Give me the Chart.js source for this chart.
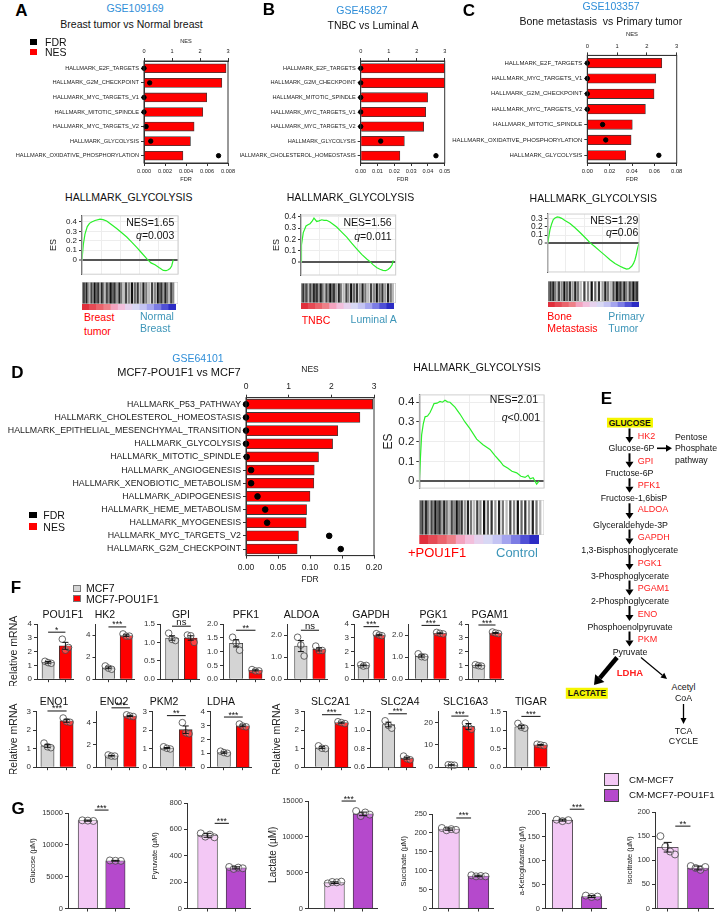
<!DOCTYPE html>
<html lang="en">
<head>
<meta charset="utf-8">
<title>POU1F1 glycolysis figure</title>
<script src="https://cdn.jsdelivr.net/npm/chart.js@4.4.1/dist/chart.umd.min.js"></script>
<style>
  body { margin: 0; background: #fff; }
  #stage { position: relative; width: 719px; height: 916px; overflow: hidden; background: #fff; }
  #stage canvas { position: absolute; }
  .t { position: absolute; white-space: pre; line-height: 1; font-family: Arial, "Liberation Sans", sans-serif; color: #111; }
  .box { position: absolute; box-sizing: border-box; }
</style>
</head>
<body>
<div id="stage"></div>
<script>
// ---------- A-D hallmark tables (NES bars, FDR dots) ----------
const aNames = ['HALLMARK_E2F_TARGETS', 'HALLMARK_G2M_CHECKPOINT', 'HALLMARK_MYC_TARGETS_V1', 'HALLMARK_MITOTIC_SPINDLE', 'HALLMARK_MYC_TARGETS_V2', 'HALLMARK_GLYCOLYSIS', 'HALLMARK_OXIDATIVE_PHOSPHORYLATION'];
const aNES = [2.93, 2.78, 2.24, 2.1, 1.79, 1.66, 1.39];
const aFDR = [0, 0.00054, 0, 0, 0.0002, 0.00064, 0.0071];

const bNames = ['HALLMARK_E2F_TARGETS', 'HALLMARK_G2M_CHECKPOINT', 'HALLMARK_MITOTIC_SPINDLE', 'HALLMARK_MYC_TARGETS_V1', 'HALLMARK_MYC_TARGETS_V2', 'HALLMARK_GLYCOLYSIS', 'HALLMARK_CHOLESTEROL_HOMEOSTASIS'];
const bNES = [3.0, 3.0, 2.39, 2.32, 2.25, 1.56, 1.4];
const bFDR = [0, 0, 0, 0, 0, 0.0119, 0.0448];

const cNames = ['HALLMARK_E2F_TARGETS', 'HALLMARK_MYC_TARGETS_V1', 'HALLMARK_G2M_CHECKPOINT', 'HALLMARK_MYC_TARGETS_V2', 'HALLMARK_MITOTIC_SPINDLE', 'HALLMARK_OXIDATIVE_PHOSPHORYLATION', 'HALLMARK_GLYCOLYSIS'];
const cNES = [2.5, 2.3, 2.24, 1.95, 1.51, 1.47, 1.29];
const cFDR = [0, 0, 0, 0, 0.0137, 0.0165, 0.064];

const dNames = ['HALLMARK_P53_PATHWAY', 'HALLMARK_CHOLESTEROL_HOMEOSTASIS', 'HALLMARK_EPITHELIAL_MESENCHYMAL_TRANSITION', 'HALLMARK_GLYCOLYSIS', 'HALLMARK_MITOTIC_SPINDLE', 'HALLMARK_ANGIOGENESIS', 'HALLMARK_XENOBIOTIC_METABOLISM', 'HALLMARK_ADIPOGENESIS', 'HALLMARK_HEME_METABOLISM', 'HALLMARK_MYOGENESIS', 'HALLMARK_MYC_TARGETS_V2', 'HALLMARK_G2M_CHECKPOINT'];
const dNES = [2.97, 2.67, 2.15, 2.03, 1.7, 1.6, 1.59, 1.5, 1.42, 1.41, 1.23, 1.2];
const dFDR = [0, 0, 0, 0, 0.001, 0.008, 0.008, 0.018, 0.03, 0.033, 0.13, 0.148];

// ---------- running enrichment scores (rank % , ES) ----------
const esAx = [0, 1.4, 3.1, 5.5, 7.8, 10.1, 13.5, 18.8, 21.9, 25.7, 30.2, 36.1, 41.4, 46.6, 51.8, 57, 62.2, 67.4, 71.9, 76, 80.2, 84.7, 87.5, 89.9, 91.7, 93.4, 95.1];
const esAy = [0, 0.16, 0.27, 0.35, 0.385, 0.40, 0.415, 0.43, 0.425, 0.41, 0.375, 0.33, 0.285, 0.24, 0.185, 0.13, 0.07, 0.01, -0.035, -0.055, -0.085, -0.115, -0.118, -0.108, -0.095, -0.068, 0];
const esBx = [0, 0.5, 2.4, 5.3, 7.4, 9.5, 11.6, 13.7, 16.6, 19, 21.9, 24.3, 27.1, 30.6, 37.7, 43, 48.3, 53.5, 58.8, 64.1, 69.4, 72.9, 76.3, 80.2, 83.4, 86.6, 89.4, 91.9, 94, 96.1, 97.4];
const esBy = [0, 0.15, 0.26, 0.32, 0.33, 0.34, 0.36, 0.39, 0.36, 0.365, 0.375, 0.37, 0.37, 0.355, 0.31, 0.265, 0.22, 0.165, 0.114, 0.065, 0.023, 0, -0.029, -0.055, -0.068, -0.078, -0.081, -0.07, -0.055, -0.03, 0.01];
const esCx = [0, 2.5, 4.4, 6.1, 8, 10.5, 12.9, 15.3, 18.9, 24.4, 29.9, 35.4, 40.9, 46.3, 51.8, 57.3, 62.8, 68.2, 73.7, 79.2, 83, 86.5, 89, 92, 94, 95.6, 97.1, 98.1, 100];
const esCy = [0, 0.166, 0.24, 0.29, 0.31, 0.324, 0.318, 0.306, 0.28, 0.243, 0.19, 0.131, 0.07, 0.007, -0.045, -0.098, -0.15, -0.204, -0.25, -0.285, -0.305, -0.32, -0.315, -0.285, -0.25, -0.204, -0.14, -0.08, 0];
const esDx = [0, 1, 1.9, 3.2, 4.6, 6.6, 8.6, 10.2, 11.8, 14.2, 16.6, 18.6, 20.6, 22.6, 24.6, 28.6, 32.6, 36.6, 40.6, 46, 51.1, 56.7, 60.7, 64.7, 67.4, 71.1, 74.3, 78.1, 81.5, 84.8, 87.2, 88.9, 91.3, 94.1, 96];
const esDy = [0, 0.13, 0.236, 0.29, 0.326, 0.33, 0.348, 0.37, 0.393, 0.395, 0.404, 0.40, 0.41, 0.402, 0.40, 0.375, 0.34, 0.30, 0.266, 0.213, 0.185, 0.161, 0.13, 0.101, 0.079, 0.065, 0.05, 0.042, 0.025, 0.019, 0.03, 0.012, 0.018, -0.015, 0];

// gene-set hit positions along the ranked list (%)
const hitsA = [0.5, 1.5, 2.5, 4, 5, 6.5, 8, 10, 12, 13.5, 15, 17, 19, 21, 22.5, 24, 26, 28, 30, 32, 34, 36.5, 39, 41, 44, 46, 49, 52, 55, 58, 61, 64, 67, 70, 73, 76, 79, 81, 83, 85, 87, 89, 91, 93, 95];
const hitsB = [0.5, 1.5, 3, 4.5, 6, 7, 8.5, 10, 12, 14, 15.5, 17, 19, 21, 23, 25, 27, 29, 31, 33, 35, 37, 40, 42, 45, 48, 50, 53, 56, 59, 62, 65, 68, 71, 74, 77, 80, 83, 86, 89, 92, 95, 97];
const hitsC = [0.5, 2, 3.5, 5, 6, 8, 10, 12, 15, 18, 21, 24, 27, 30, 33, 36, 40, 44, 48, 52, 56, 60, 63, 66, 69, 72, 74, 76, 78, 80, 82, 84, 86, 88, 90, 92, 94, 96, 98];
const hitsD = [0.5, 1.5, 3, 4, 5.5, 7, 8.5, 10, 11.5, 13, 15, 16.5, 18, 20, 22, 24, 26, 28, 30, 32, 34, 36.5, 39, 41.5, 44, 46.5, 49, 52, 55, 58, 61, 64, 67, 70, 73, 76, 79, 82, 85, 88, 91, 94, 97];

// ---------- F: qPCR, relative mRNA (MCF7, MCF7-POU1F1) ----------
const fGenes1 = ['POU1F1', 'HK2', 'GPI', 'PFK1', 'ALDOA', 'GAPDH', 'PGK1', 'PGAM1'];
const fMean1 = [[1.22, 2.42], [1.03, 3.95], [1.12, 1.12], [1.3, 0.32], [1.5, 1.35], [1.0, 3.2], [1.05, 2.08], [1.0, 3.35]];
const fSem1 = [[0.06, 0.25], [0.08, 0.07], [0.06, 0.06], [0.13, 0.02], [0.25, 0.07], [0.03, 0.05], [0.05, 0.02], [0.03, 0.03]];
const fPts1 = [
  [[1.3, 1.2, 1.15], [2.9, 2.1, 2.3]],
  [[1.2, 1.0, 0.9], [4.1, 3.9, 3.9]],
  [[1.25, 1.08, 1.05], [1.2, 1.18, 1.0]],
  [[1.52, 1.32, 1.05], [0.35, 0.3, 0.3]],
  [[1.9, 1.55, 1.05], [1.5, 1.3, 1.3]],
  [[1.05, 0.95, 1.0], [3.3, 3.2, 3.15]],
  [[1.15, 1.02, 1.0], [2.12, 2.08, 2.05]],
  [[1.05, 0.98, 0.95], [3.42, 3.35, 3.3]]
];
const fSig1 = ['*', '***', 'ns', '**', 'ns', '***', '***', '***'];
const fMin1 = [0, 0, 0, 0, 0, 0, 0, 0];
const fMax1 = [4, 5, 1.5, 2, 2.5, 4, 2.5, 4];
const fStep1 = [1, 1, 0.5, 0.5, 0.5, 1, 0.5, 1];

const fGenes2 = ['ENO1', 'ENO2', 'PKM2', 'LDHA', 'SLC2A1', 'SLC2A4', 'SLC16A3', 'TIGAR'];
const fMean2 = [[1.15, 2.5], [1.03, 4.6], [1.03, 2.02], [1.05, 2.97], [1.05, 2.4], [1.06, 0.697], [1.0, 18.3], [1.09, 0.6]];
const fSem2 = [[0.08, 0.08], [0.03, 0.05], [0.03, 0.2], [0.05, 0.06], [0.05, 0.03], [0.025, 0.01], [0.06, 1.3], [0.04, 0.01]];
const fPts2 = [
  [[1.3, 1.1, 1.05], [2.65, 2.45, 2.42]],
  [[1.1, 1.0, 1.0], [4.7, 4.6, 4.55]],
  [[1.1, 1.02, 0.98], [2.4, 1.85, 1.8]],
  [[1.15, 1.05, 1.0], [3.1, 2.95, 2.9]],
  [[1.15, 1.02, 1.0], [2.45, 2.4, 2.35]],
  [[1.1, 1.05, 1.02], [0.72, 0.69, 0.68]],
  [[1.1, 1.0, 0.9], [19.8, 18, 17]],
  [[1.18, 1.08, 1.05], [0.62, 0.6, 0.58]]
];
const fSig2 = ['***', '***', '**', '***', '***', '***', '***', '***'];
const fMin2 = [0, 0, 0, 0, 0, 0.6, 0, 0];
const fMax2 = [3, 5, 3, 4, 3, 1.2, 25, 1.5];
const fStep2 = [1, 1, 1, 1, 1, 0.2, 5, 0.5];

// ---------- G: metabolites (CM-MCF7, CM-MCF7-POU1F1) ----------
const gNames = ['Glucose (µM)', 'Pyruvate (µM)', 'Lactate (µM)', 'Succinate (µM)', 'a-Ketoglutarate (µM)', 'Isocitrate (µM)'];
const gMean = [[13800, 7500], [555, 308], [3600, 13200], [210, 86], [185, 25], [127, 84]];
const gSem = [[90, 60], [15, 8], [120, 250], [3, 2], [2, 2], [10, 4]];
const gPts = [
  [[13850, 13800, 13750], [7550, 7500, 7480]],
  [[570, 545, 560, 540], [315, 300, 310, 305]],
  [[3500, 3700, 3650, 3750], [13600, 12900, 13400, 13100]],
  [[213, 207, 210, 208], [88, 85, 86, 85]],
  [[186, 183, 185], [27, 24, 25]],
  [[150, 128, 118, 112], [88, 84, 80, 86]]
];
const gSig = ['***', '***', '***', '***', '***', '**'];
const gMax = [15000, 800, 15000, 250, 200, 200];
const gStep = [5000, 200, 5000, 50, 50, 50];

// ---------- layout (page px) ----------
const fLay1 = [[37, 48.8, 67.2], [95.5, 109, 127.5], [160, 172.5, 192], [223, 236.5, 256.5], [287, 301.5, 320.5], [354, 364, 380.5], [408, 422, 441], [468, 479, 497]];
const fLay2 = [[36, 48, 68], [96, 112, 131], [152, 167.5, 187], [210, 224.5, 244], [304, 322.5, 342.5], [370, 389, 408], [438, 452, 470], [506, 522, 542]];
const fTitleX1 = [63, 105, 181, 246, 301.5, 371, 433.5, 490];
const fTitleX2 = [54, 114, 164, 221, 330.5, 400, 465.6, 531];
const fRel1 = [14, null, null, null, null, null, null, null];
const fRel2 = [14, null, null, null, 277, null, null, null];
const gLay = [[68, 88.5, 117], [187, 208, 237], [308, 335, 364], [432, 449.5, 480], [545, 563, 593], [655, 668, 699]];
const gTop = [813, 803, 801, 814, 813, 812];
const gTitleX = [32, 154, 273, 403, 521, 629];

const RED = '#ff0000', TEAL = '#3d95b8', BLUE = '#2f8ed8';
const shades = ['#111', '#666', '#333', '#999', '#222', '#777', '#bbb', '#444', '#888'];
const rampA = ['#e02f3c', '#e54a55', '#ea646c', '#ee8088', '#f3a3bf', '#f2bfdc', '#e6d2ee', '#d8d8f4', '#c4c4f3', '#a4a4ee', '#7c7ce4', '#5050d6', '#2c2cc4'];
const jit = { 3: [-0.2, 0, 0.2], 4: [-0.24, -0.08, 0.08, 0.24] };

Chart.defaults.font.family = 'Arial, "Liberation Sans", sans-serif';
Chart.defaults.color = '#222';
Chart.defaults.animation = false;
Chart.defaults.responsive = false;
Chart.defaults.events = [];
Chart.defaults.plugins.legend.display = false;
Chart.defaults.plugins.tooltip.enabled = false;

// frame around the plot area
const framePlugin = {
  id: 'frame',
  afterDraw(chart, args, o) {
    if (!o.color) return;
    const { left, top, right, bottom } = chart.chartArea;
    const c = chart.ctx;
    c.save();
    c.strokeStyle = o.color;
    c.lineWidth = 1;
    c.strokeRect(left, top, right - left, bottom - top);
    c.restore();
  }
};

// mean +/- sem whiskers
const errPlugin = {
  id: 'err',
  afterDatasetsDraw(chart, args, o) {
    if (!o.sem) return;
    const ys = chart.scales.y, c = chart.ctx;
    const bars = chart.getDatasetMeta(1).data;
    c.save();
    c.strokeStyle = '#111';
    c.lineWidth = 1;
    bars.forEach((bar, i) => {
      const y1 = ys.getPixelForValue(o.mean[i] - o.sem[i]);
      const y2 = ys.getPixelForValue(o.mean[i] + o.sem[i]);
      c.beginPath();
      c.moveTo(bar.x, y1); c.lineTo(bar.x, y2);
      c.moveTo(bar.x - o.cap, y1); c.lineTo(bar.x + o.cap, y1);
      c.moveTo(bar.x - o.cap, y2); c.lineTo(bar.x + o.cap, y2);
      c.stroke();
    });
    c.restore();
  }
};

// significance bracket
const sigPlugin = {
  id: 'sig',
  afterDraw(chart, args, o) {
    if (!o.text) return;
    const xs = chart.scales.x, ys = chart.scales.y, c = chart.ctx;
    const x1 = xs.getPixelForValue(1 + o.inset), x2 = xs.getPixelForValue(2 - o.inset);
    const y = ys.getPixelForValue(o.top) - o.gap;
    c.save();
    c.strokeStyle = '#111';
    c.lineWidth = 1;
    c.beginPath(); c.moveTo(x1, y); c.lineTo(x2, y); c.stroke();
    c.fillStyle = '#111';
    c.font = o.size + 'px Arial, "Liberation Sans", sans-serif';
    c.textAlign = 'center';
    c.textBaseline = 'alphabetic';
    c.fillText(o.text, (x1 + x2) / 2, o.text === 'ns' ? y - 1.5 : y + 0.5);
    c.restore();
  }
};
Chart.register(framePlugin, errPlugin, sigPlugin);

const stage = document.getElementById('stage');

// put a chart so that its plot area lands on `area` = [l, t, r, b]; pad = room outside it
function place(area, pad, cfg) {
  const [l, t, r, b] = area, [pl, pt, pr, pb] = pad;
  const cv = document.createElement('canvas');
  const x0 = Math.round(l - pl), y0 = Math.round(t - pt);
  cv.width = Math.round(r + pr) - x0;
  cv.height = Math.round(b + pb) - y0;
  cv.style.left = x0 + 'px';
  cv.style.top = y0 + 'px';
  stage.appendChild(cv);
  const size = { left: l - x0, top: t - y0, right: cv.width - (r - x0), bottom: cv.height - (b - y0) };
  const used = {};
  const scales = cfg.options.scales;
  Object.keys(scales).forEach(id => {
    const s = scales[id];
    if (s.display === false) return;
    const pos = s.position || (id[0] === 'y' ? 'left' : 'bottom');
    used[pos] = true;
    s.afterFit = sc => {
      if (pos === 'left' || pos === 'right') sc.width = size[pos];
      else sc.height = size[pos];
    };
  });
  cfg.options.layout = { padding: {
    left: used.left ? 0 : size.left, right: used.right ? 0 : size.right,
    top: used.top ? 0 : size.top, bottom: used.bottom ? 0 : size.bottom } };
  cfg.options.devicePixelRatio = 1;
  return new Chart(cv, cfg);
}

function txt(x, y, s, css, align, html) {
  const d = document.createElement('div');
  d.className = 't';
  if (html) d.innerHTML = s; else d.textContent = s;
  d.style.cssText += css;
  d.style.left = x + 'px';
  d.style.top = y + 'px';
  d.style.transform = align === 'l' ? 'translate(0,-50%)' : align === 'r' ? 'translate(-100%,-50%)' : 'translate(-50%,-50%)';
  stage.appendChild(d);
}

function box(x, y, w, h, css) {
  const d = document.createElement('div');
  d.className = 'box';
  d.style.cssText = `left:${x}px;top:${y}px;width:${w}px;height:${h}px;` + css;
  stage.appendChild(d);
}

const outGrid = () => ({ drawOnChartArea: false, tickLength: 3, color: '#333', tickColor: '#333', offset: false });

function nesChart(area, pad, names, nes, fdr, f) {
  return place(area, pad, {
    type: 'bar',
    data: {
      labels: names,
      datasets: [
        { type: 'scatter', indexAxis: 'x', data: fdr.map((v, i) => ({ x: v, y: names[i] })), xAxisID: 'x2', yAxisID: 'y',
          pointRadius: f.dot, backgroundColor: '#000', borderColor: '#000', clip: false },
        { data: nes, xAxisID: 'x', yAxisID: 'y', backgroundColor: RED, borderColor: '#3a3a3a', borderWidth: 0.8, barThickness: f.bar }
      ]
    },
    options: {
      indexAxis: 'y',
      scales: {
        x: { position: 'top', min: 0, max: 3, ticks: { stepSize: 1, font: { size: f.tick }, padding: 3, maxRotation: 0, autoSkip: false },
             grid: outGrid(), border: { color: '#333' },
             title: { display: f.nes, text: 'NES', font: { size: f.tick }, padding: { top: 2, bottom: 0 } } },
        x2: { position: 'bottom', min: 0, max: f.fdrMax,
              ticks: { stepSize: f.fdrStep, font: { size: f.tick }, padding: f.bpad, maxRotation: 0, minRotation: 0, autoSkip: false, callback: v => v.toFixed(f.digits) },
              grid: outGrid(), border: { color: '#333' },
              title: { display: true, text: 'FDR', font: { size: f.tick }, padding: { top: 0, bottom: 2 } } },
        y: { position: 'left', type: 'category', offset: true, ticks: { autoSkip: false, font: { size: f.label }, color: '#222', padding: 2 },
             grid: outGrid(), border: { color: '#333' } }
      },
      plugins: { frame: { color: '#333' } }
    }
  });
}

function esChart(area, pad, xs, ys, f) {
  return place(area, pad, {
    type: 'line',
    data: { datasets: [{ data: xs.map((x, i) => ({ x, y: ys[i] })), borderColor: '#2bf02b', borderWidth: 1.2, pointRadius: 0, tension: 0 }] },
    options: {
      scales: {
        x: { type: 'linear', min: 0, max: 100, ticks: { display: false, stepSize: 20 }, grid: { color: '#ededed', tickLength: 0 }, border: { display: false } },
        y: { min: f.min, max: f.max,
             ticks: { stepSize: 0.1, includeBounds: false, font: { size: f.tick }, color: '#222', padding: 2,
                      callback: v => v < -1e-9 ? null : (Math.abs(v) < 1e-9 ? '0' : v.toFixed(1)) },
             grid: { color: c => Math.abs(c.tick.value) < 1e-9 ? '#555' : '#ededed', lineWidth: c => Math.abs(c.tick.value) < 1e-9 ? 2 : 1,
                     tickLength: 3, tickColor: '#333', tickWidth: 1 },
             border: { color: '#222', width: 1.2 },
             title: { display: !!f.es, text: 'ES', font: { size: f.esSize }, color: '#222', padding: 0 } }
      },
      plugins: { frame: { color: '#cfcfcf' } }
    }
  });
}

function barcode(area, hits) {
  return place(area, [0, 0, 0, 0], {
    type: 'bar',
    data: { datasets: [{ data: hits.map(h => ({ x: h, y: 1 })), backgroundColor: hits.map((h, i) => shades[i % shades.length]), barThickness: 1.6 }] },
    options: {
      scales: { x: { type: 'linear', offset: false, min: 0, max: 100, display: false }, y: { min: 0, max: 1, display: false } },
      plugins: { frame: { color: '#c8c8c8' } }
    }
  });
}

function ramp(area, colors) {
  return place(area, [0, 0, 0, 0], {
    type: 'bar',
    data: { labels: colors.map((c, i) => i), datasets: [{ data: colors.map(() => 1), backgroundColor: colors, barPercentage: 1, categoryPercentage: 1 }] },
    options: { scales: { x: { display: false }, y: { min: 0, max: 1, display: false } } }
  });
}

function smallBar(area, pad, d, f) {
  const dots = [];
  d.pts.forEach((grp, g) => grp.forEach((v, j) => dots.push({ x: g + 1 + jit[grp.length][j] * f.spread, y: v })));
  const top = Math.max(...d.pts.flat(), ...d.mean.map((m, i) => m + d.sem[i]));
  return place(area, pad, {
    type: 'bar',
    data: { datasets: [
      { type: 'scatter', data: dots, pointRadius: f.r, borderWidth: 0.8, borderColor: '#444', backgroundColor: 'rgba(255,255,255,0.25)', clip: false },
      { data: d.mean.map((m, i) => ({ x: i + 1, y: m })), backgroundColor: f.colors, borderColor: '#333', borderWidth: 0.8, barThickness: f.bw }
    ] },
    options: {
      scales: {
        x: { type: 'linear', offset: false, min: f.xMin, max: f.xMax,
             afterBuildTicks: sc => { sc.ticks = [{ value: 1 }, { value: 2 }]; },
             ticks: { callback: () => '' }, grid: outGrid(), border: { color: '#333' } },
        y: { min: d.min, max: d.max,
             ticks: { stepSize: d.step, font: { size: f.tick }, color: '#333', padding: 2,
                      callback: v => d.step < 1 ? v.toFixed(1) : String(Math.round(v)) },
             grid: outGrid(), border: { color: '#333' },
             title: { display: !!d.title, text: d.title || '', font: { size: d.titleSize }, color: '#222', padding: 0 } }
      },
      plugins: {
        err: { mean: d.mean, sem: d.sem, cap: f.cap },
        sig: { text: d.sig, top, gap: f.gap, inset: f.inset, size: f.sigSize }
      }
    }
  });
}

// ---------- panels A, B, C ----------
nesChart([144, 61, 228, 163], [134, 25, 14, 22], aNames, aNES, aFDR,
  { bar: 9, dot: 2.2, tick: 5.6, label: 5.7, fdrMax: 0.008, fdrStep: 0.002, digits: 3, nes: true, bpad: 2 });
nesChart([360.7, 61, 444.7, 163], [121, 25, 12, 22], bNames, bNES, bFDR,
  { bar: 9.5, dot: 2.2, tick: 5.6, label: 5.6, fdrMax: 0.05, fdrStep: 0.01, digits: 2, nes: false, bpad: 2 });
nesChart([587.3, 55.4, 676.7, 163], [140, 26, 14, 22], cNames, cNES, cFDR,
  { bar: 9.5, dot: 2.2, tick: 5.8, label: 6.0, fdrMax: 0.08, fdrStep: 0.02, digits: 2, nes: true, bpad: 2 });

esChart([82, 214, 178, 281], [34, 5, 4, 0], esAx, esAy, { min: -0.155, max: 0.465, tick: 8, es: true, esSize: 9 });
esChart([301, 212.7, 395.7, 281.7], [30, 5, 4, 0], esBx, esBy, { min: -0.12, max: 0.418, tick: 8.3, es: true, esSize: 9 });
esChart([547.7, 211.7, 639, 279.3], [20, 5, 4, 0], esCx, esCy, { min: -0.355, max: 0.359, tick: 8.4, es: false });
barcode([82, 282, 178, 304], hitsA);
ramp([82, 304, 176, 310], rampA);
barcode([301, 282.5, 395.7, 303], hitsB);
ramp([301, 303, 394, 309], rampA);
barcode([547.7, 280.5, 639, 301.5], hitsC);
ramp([547.7, 301.5, 639, 307], rampA);

// ---------- panel D ----------
nesChart([246, 397.7, 374, 555.6], [246, 35, 16, 31], dNames, dNES, dFDR,
  { bar: 10, dot: 2.8, tick: 8.5, label: 8.8, fdrMax: 0.2, fdrStep: 0.05, digits: 2, nes: true, bpad: 4 });
esChart([419.3, 391.7, 544, 497], [38.5, 6, 4, 0], esDx, esDy, { min: -0.035, max: 0.437, tick: 11.5, es: true, esSize: 12 });
barcode([419.3, 500, 544, 535], hitsD);
ramp([419.3, 535, 539, 544], rampA);

// ---------- panel F ----------
function fRow(genes, mean, sem, pts, sig, min, max, step, lay, titleX, rel, top, bottom, titleY) {
  genes.forEach((g, i) => {
    const [ax, c1, c2] = lay[i], k = c2 - c1;
    const pl = rel[i] != null ? ax - (rel[i] - 6.3) : 22;
    smallBar([ax, top, c2 + 0.45 * k, bottom], [pl, 16, 3, 6],
      { mean: mean[i], sem: sem[i], pts: pts[i], sig: sig[i], min: min[i], max: max[i], step: step[i],
        title: rel[i] != null ? 'Relative mRNA' : null, titleSize: 10.5 },
      { xMin: 1 - (c1 - ax) / k, xMax: 2.45, bw: 0.66 * k, colors: ['#d4d4d4', RED], tick: 8, r: 3.3, spread: 0.9,
        cap: 3, gap: 7, inset: 0, sigSize: sig[i] === 'ns' ? 9.5 : 8.5 });
    txt(titleX[i], titleY, g, 'font-size:10.5px;');
  });
}
fRow(fGenes1, fMean1, fSem1, fPts1, fSig1, fMin1, fMax1, fStep1, fLay1, fTitleX1, fRel1, 624, 680, 613.5);
fRow(fGenes2, fMean2, fSem2, fPts2, fSig2, fMin2, fMax2, fStep2, fLay2, fTitleX2, fRel2, 711.5, 768, 700.5);

// ---------- panel G ----------
gNames.forEach((nm, i) => {
  const [ax, c1, c2] = gLay[i], k = c2 - c1;
  const fs = i === 2 ? 10 : 7.5;
  smallBar([ax, gTop[i], c2 + 0.5 * k, 909], [ax - (gTitleX[i] - fs * 0.6), 16, 3, 6],
    { mean: gMean[i], sem: gSem[i], pts: gPts[i], sig: gSig[i], min: 0, max: gMax[i], step: gStep[i], title: nm, titleSize: fs },
    { xMin: 1 - (c1 - ax) / k, xMax: 2.5, bw: 0.68 * k, colors: ['#f3c8f5', '#b549cc'], tick: 7.5, r: 3.5, spread: 1,
      cap: 4, gap: 10, inset: 0.25, sigSize: 8.5 });
});

// ---------- text ----------
const L = 'font-weight:bold;font-size:17px;color:#000;';
txt(21.5, 10, 'A', L); txt(269, 8.5, 'B', L); txt(469, 10, 'C', L);
txt(17.5, 372, 'D', L); txt(606.5, 397.5, 'E', L); txt(16, 587, 'F', L); txt(18, 808, 'G', L);

const T = 'font-size:10.5px;';
txt(135, 8, 'GSE109169', T + 'color:' + BLUE);
txt(131.5, 24.3, 'Breast tumor vs Normal breast', T);
txt(362, 10, 'GSE45827', T + 'color:' + BLUE);
txt(373, 25, 'TNBC vs Luminal A', T);
txt(611, 6, 'GSE103357', T + 'color:' + BLUE);
txt(600.8, 20.7, 'Bone metastasis  vs Primary tumor', T);
txt(198, 357.7, 'GSE64101', T + 'color:' + BLUE);
txt(179, 371.7, 'MCF7-POU1F1 vs MCF7', 'font-size:11px;');

// legends for NES / FDR
box(30, 39, 7.4, 6.4, 'background:#000;');
box(30, 49, 7.4, 6.4, 'background:' + RED + ';');
txt(45, 42.2, 'FDR', T, 'l'); txt(45, 52.4, 'NES', T, 'l');
box(29.3, 511.7, 7.4, 6.6, 'background:#000;');
box(29.3, 523.3, 7.4, 6.6, 'background:' + RED + ';');
txt(43.3, 515, 'FDR', T, 'l'); txt(43.3, 527, 'NES', T, 'l');

// GSEA plot captions
const gs = 'HALLMARK_GLYCOLYSIS';
txt(128.8, 196.7, gs, T); txt(350.5, 197.3, gs, T); txt(593.3, 197.7, gs, T); txt(477, 367.3, gs, T);
txt(174.3, 221.7, 'NES=1.65', T, 'r'); txt(174.3, 235, '<i>q</i>=0.003', T, 'r', true);
txt(391.7, 221.7, 'NES=1.56', T, 'r'); txt(391.7, 236, '<i>q</i>=0.011', T, 'r', true);
txt(638.3, 220, 'NES=1.29', T, 'r'); txt(638.3, 231.7, '<i>q</i>=0.06', T, 'r', true);
txt(538, 399.3, 'NES=2.01', T, 'r'); txt(540, 416.7, '<i>q</i>&lt;0.001', T, 'r', true);

txt(84, 317.3, 'Breast', T + 'color:' + RED, 'l'); txt(84, 330.7, 'tumor', T + 'color:' + RED, 'l');
txt(140, 315.7, 'Normal', T + 'color:' + TEAL, 'l'); txt(140, 328.3, 'Breast', T + 'color:' + TEAL, 'l');
txt(301.7, 320, 'TNBC', T + 'color:' + RED, 'l'); txt(396.7, 319, 'Luminal A', T + 'color:' + TEAL, 'r');
txt(547.3, 315.7, 'Bone', T + 'color:' + RED, 'l'); txt(547.3, 328.3, 'Metastasis', T + 'color:' + RED, 'l');
txt(608.3, 316, 'Primary', T + 'color:' + TEAL, 'l'); txt(608.3, 328.3, 'Tumor', T + 'color:' + TEAL, 'l');
txt(408, 551.7, '+POU1F1', 'font-size:13px;color:' + RED, 'l'); txt(496, 551.7, 'Control', 'font-size:13px;color:' + TEAL, 'l');

// F / G legends
box(73.3, 585, 7.4, 7, 'background:#d4d4d4;border:0.8px solid #777;');
box(73.3, 595, 7.4, 7, 'background:' + RED + ';border:0.8px solid #777;');
txt(86, 588.3, 'MCF7', T, 'l'); txt(86, 598.5, 'MCF7-POU1F1', T, 'l');
box(604, 773, 15, 13, 'background:#f3c8f5;border:1px solid #444;');
box(604, 789, 15, 13, 'background:#b549cc;border:1px solid #444;');
txt(629, 779.6, 'CM-MCF7', 'font-size:9.7px;', 'l'); txt(629, 795.2, 'CM-MCF7-POU1F1', 'font-size:9.7px;', 'l');

// ---------- E: glycolysis pathway ----------
const eMetab = [['Glucose-6P', 631.5, 448.3], ['Fructose-6P', 629.5, 473.3], ['Fructose-1,6bisP', 634, 498.3], ['Glyceraldehyde-3P', 630.5, 524.5],
  ['1,3-Bisphosphoglycerate', 629.7, 550], ['3-Phosphoglycerate', 630, 575.5], ['2-Phosphoglycerate', 630, 601], ['Phosphoenolpyruvate', 630, 626.5], ['Pyruvate', 630, 652]];
const eEnz = [['HK2', 435.7], ['GPI', 460.7], ['PFK1', 485], ['ALDOA', 509.3], ['GAPDH', 537.3], ['PGK1', 562.7], ['PGAM1', 588], ['ENO', 613.5], ['PKM', 639]];
const M = 'font-size:8.8px;color:#111;';
txt(629.7, 422.5, 'GLUCOSE', 'font-size:8.5px;font-weight:bold;background:#f5f500;padding:1px 2px;');
eMetab.forEach(([s, x, y]) => txt(x, y, s, M));
eEnz.forEach(([s, y]) => txt(637.7, y, s, 'font-size:9px;color:#ff2020;', 'l'));
txt(675, 437.3, 'Pentose', M, 'l'); txt(675, 448.3, 'Phosphate', M, 'l'); txt(675, 460, 'pathway', M, 'l');
txt(587, 693, 'LACTATE', 'font-size:8.5px;font-weight:bold;background:#f5f500;padding:1px 2px;');
txt(630, 673, 'LDHA', 'font-size:9.5px;font-weight:bold;color:#ff2020;');
txt(683.5, 686.6, 'Acetyl', M); txt(683.5, 698, 'CoA', M);
txt(683.5, 731.4, 'TCA', M); txt(683.5, 741.4, 'CYCLE', M);

const svgNS = 'http://www.w3.org/2000/svg';
const svg = document.createElementNS(svgNS, 'svg');
svg.setAttribute('width', 719); svg.setAttribute('height', 916);
svg.style.cssText = 'position:absolute;left:0;top:0;';
stage.appendChild(svg);
function arrow(x1, y1, x2, y2, w, hl, hw) {
  const dx = x2 - x1, dy = y2 - y1, len = Math.hypot(dx, dy), ux = dx / len, uy = dy / len;
  const bx = x2 - ux * hl, by = y2 - uy * hl;
  const ln = document.createElementNS(svgNS, 'line');
  ln.setAttribute('x1', x1); ln.setAttribute('y1', y1); ln.setAttribute('x2', bx); ln.setAttribute('y2', by);
  ln.setAttribute('stroke', '#000'); ln.setAttribute('stroke-width', w);
  svg.appendChild(ln);
  const p = document.createElementNS(svgNS, 'polygon');
  p.setAttribute('points', `${x2},${y2} ${bx - uy * hw / 2},${by + ux * hw / 2} ${bx + uy * hw / 2},${by - ux * hw / 2}`);
  p.setAttribute('fill', '#000');
  svg.appendChild(p);
}
arrow(629.5, 428.5, 629.5, 443, 2, 6, 8);
eMetab.slice(0, -1).forEach(([s, x, y], i) => arrow(629.5, y + 5, 629.5, eMetab[i + 1][2] - 5.5, 2, 6, 8));
arrow(657, 448.3, 672, 448.3, 1.6, 6, 7);
arrow(617, 657.5, 594, 685, 4.5, 9, 12);
arrow(641, 657.5, 667, 679, 1.2, 6, 6);
arrow(683.5, 704, 683.5, 724, 1.3, 6, 6);
</script>
</body>
</html>
